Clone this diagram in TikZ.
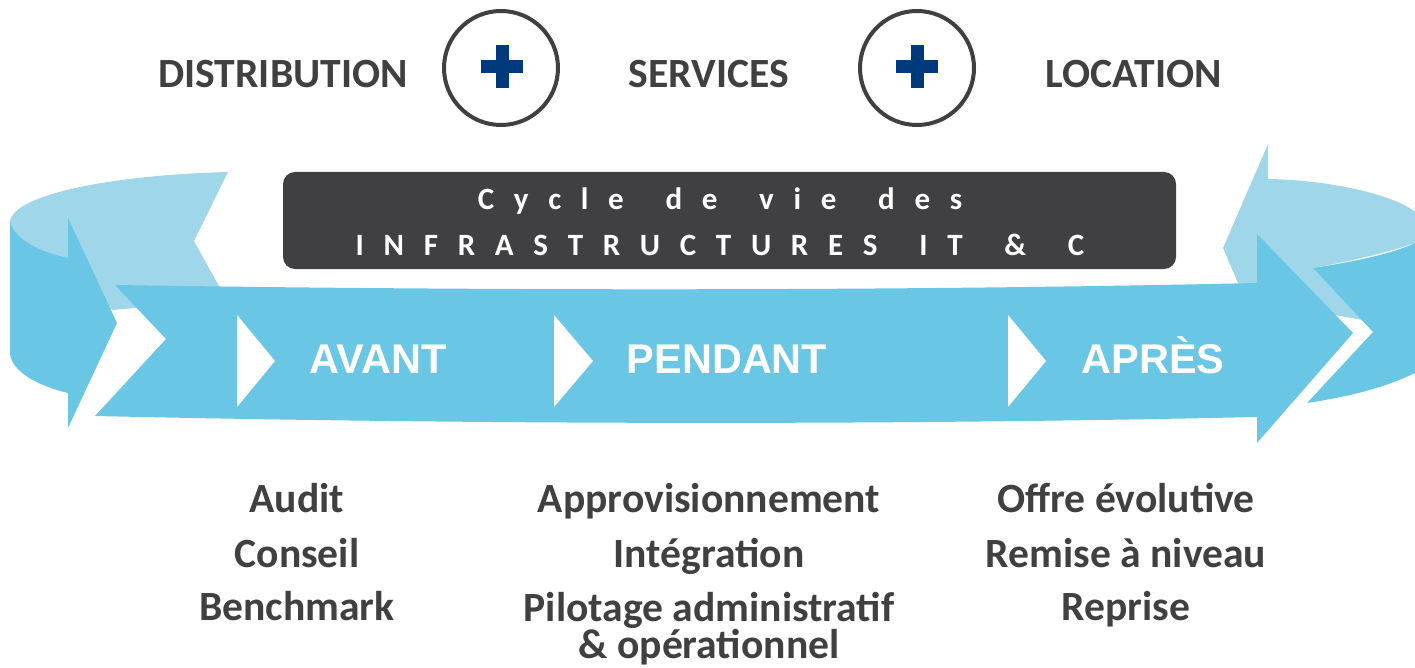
\documentclass[tikz,border=0pt]{standalone}
\usepackage{fontspec}
\setmainfont{Carlito}
\newfontfamily\arialfont{Liberation Sans}
\definecolor{bandblue}{RGB}{105,198,229}
\definecolor{lightblue}{RGB}{160,214,234}
\definecolor{darkgray}{RGB}{64,64,66}
\definecolor{textgray}{RGB}{64,64,64}
\definecolor{navy}{RGB}{0,58,124}
\newlength{\lspamt}\setlength{\lspamt}{19.7pt}
\makeatletter
\def\lsp#1{\lsp@#1\@nil}
\def\lsp@#1{\ifx#1\@nil\else #1\hspace{\lspamt}\expandafter\lsp@\fi}
\makeatother
\newcommand{\wgap}{\hspace{22pt}}
\tikzset{
  toplabel/.style={anchor=base, text=textgray, font=\fontsize{41.6}{50}\selectfont\bfseries, inner sep=0pt},
  bandlabel/.style={anchor=base, text=white, font=\arialfont\fontsize{41.5}{50}\selectfont\bfseries, inner sep=0pt},
  itemlabel/.style={anchor=base, text=textgray, font=\fontsize{41.6}{50}\selectfont\bfseries, inner sep=0pt},
  titlelabel/.style={anchor=base, text=white, font=\fontsize{31}{38}\selectfont\bfseries, inner sep=0pt},
  pluscircle/.style={draw=darkgray, line width=4pt, fill=white},
  chevron/.style={fill=white},
}
\begin{document}
\begin{tikzpicture}[x=1pt,y=-1pt]
\useasboundingbox (0,0) rectangle (1415,668);
% back light band, left
\fill[lightblue] (10,222) .. controls (12,195) and (110,175) .. (228,172)
  -- (194,241) -- (220,288) -- (220,300) -- (113,310) -- (68,290) -- (10,260) -- cycle;
% left dark side with arrow head
\fill[bandblue] (10,222) .. controls (15,240) and (40,252) .. (68,258) -- (68,218)
  -- (117,323) -- (68,428) -- (68,393) .. controls (35,385) and (10,370) .. (10,352) -- cycle;
% back light band, right
\fill[lightblue] (1268,144) -- (1268,179) .. controls (1330,180) and (1395,195) .. (1415,212)
  -- (1415,243) .. controls (1380,255) and (1340,263) .. (1313,268) -- (1362,320)
  -- (1335,315) -- (1238,283) -- (1223,248) -- cycle;
% right dark side with notched tail
\fill[bandblue] (1313,268) .. controls (1345,263) and (1390,255) .. (1415,243)
  -- (1415,373) .. controls (1380,390) and (1340,398) .. (1307,403) -- (1373,332) -- cycle;
% main front arrow
\fill[bandblue] (115,285) .. controls (500,291) and (900,291) .. (1257,283)
  -- (1257,234) -- (1353,333) -- (1257,443) -- (1257,417)
  .. controls (900,425) and (500,425) .. (95,416) -- (166,339) -- cycle;
% chevrons
\fill[chevron] (237,315) -- (275,361) -- (237,407) -- cycle;
\fill[chevron] (554,315) -- (593,361) -- (554,407) -- cycle;
\fill[chevron] (1008,315) -- (1046,361) -- (1008,407) -- cycle;
% band labels
\node[bandlabel] (avant) at (378,373) {AVANT};
\node[bandlabel] (pendant) at (727,373) {PENDANT};
\node[bandlabel] (apres) at (1153,373) {APRÈS};
% title box
\fill[darkgray, rounded corners=12pt] (283,172) rectangle (1176,269);
\node[titlelabel] (title1) at (720,210) {\lsp{Cycle}\wgap\lsp{de}\wgap\lsp{vie}\wgap\lsp{des}};
\node[titlelabel] (title2) at (720,255) {\lsp{INFRASTRUCTURES}\wgap\lsp{IT}\wgap\lsp{\&}\wgap\lsp{C}};
% top labels
\node[toplabel] (distribution) at (283,88) {DISTRIBUTION};
\node[toplabel] (services) at (709,88) {SERVICES};
\node[toplabel] (location) at (1134,88) {LOCATION};
\draw[pluscircle] (501,68) circle[radius=57];
\draw[pluscircle] (917,68) circle[radius=57];
\fill[navy] (495.5,45) rectangle (508.5,88);
\fill[navy] (481,60) rectangle (523,73);
\fill[navy] (910.5,45) rectangle (923.5,88);
\fill[navy] (896,60) rectangle (938,73);
% bottom items
\node[itemlabel] (audit) at (297,512) {Audit};
\node[itemlabel] (conseil) at (297,567) {Conseil};
\node[itemlabel] (bench) at (297,620) {Benchmark};
\node[itemlabel] (appro) at (709,512) {Approvisionnement};
\node[itemlabel] (integ) at (709,567) {Intégration};
\node[itemlabel, align=center] (pilot) at (709,658) {Pilotage administratif\\[-13pt]\& opérationnel};
\node[itemlabel] (offre) at (1126,512) {Offre évolutive};
\node[itemlabel] (remise) at (1126,567) {Remise à niveau};
\node[itemlabel] (reprise) at (1126,620) {Reprise};
\end{tikzpicture}
\end{document}
